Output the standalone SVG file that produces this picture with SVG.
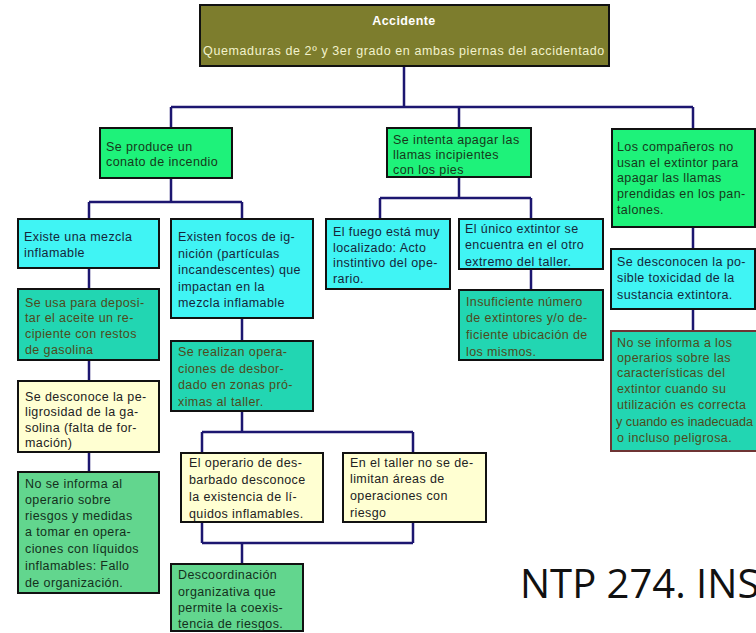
<svg xmlns="http://www.w3.org/2000/svg" width="756" height="633" viewBox="0 0 756 633">
<style>
  .box{stroke:#111;stroke-width:2}
  .olive{fill:#7d7d2d}
  .green{fill:#1ef27a}
  .cyan{fill:#40f4f4}
  .teal{fill:#22d6b2}
  .yellow{fill:#ffffd2}
  .lgreen{fill:#62d68e}
  text{font-family:"Liberation Sans",Arial,sans-serif;font-size:12.5px;letter-spacing:0.4px}
  .tg{fill:#16381a}
  .tc{fill:#16263a}
  .tt{fill:#4e4a1c}
  .ty{fill:#222222}
  .tl{fill:#14301c}
  .conn{fill:none;stroke:#1c1670;stroke-width:2.5}
</style>
<rect width="756" height="633" fill="#ffffff"/>
<g id="connectors" class="conn">
  <path d="M404,66V107M171,107H693M171,107V128M459,107V128M693,107V129"/>
  <path d="M171,178V202M89,202H242M89,202V219M242,202V219"/>
  <path d="M459,177V198M380,198H531M380,198V219M531,198V219"/>
  <path d="M89,268V289M89,360V381M89,452V472"/>
  <path d="M242,318V341M242,411V432M202,432H413M202,432V453M413,432V453"/>
  <path d="M202,522V543M413,522V543M202,543H413M242,543V564"/>
  <path d="M531,269V290"/>
  <path d="M693,227V249M693,309V331"/>
</g>
<g id="accidente">
  <rect class="box olive" x="200" y="5" width="409" height="61"/>
  <text x="404" y="25" text-anchor="middle" font-weight="bold" fill="#ffffff">Accidente</text>
  <text x="404" y="55" text-anchor="middle" fill="#f2f2cc" style="letter-spacing:0.6px">Quemaduras de 2º y 3er grado en ambas piernas del accidentado</text>
</g>
<g id="conato">
  <rect class="box green" x="100" y="128" width="132" height="50"/>
  <text class="tg" x="106" y="151">Se produce un</text>
  <text class="tg" x="106" y="166">conato de incendio</text>
</g>
<g id="intenta">
  <rect class="box green" x="387" y="128" width="144" height="49"/>
  <text class="tg" x="393" y="144">Se intenta apagar las</text>
  <text class="tg" x="393" y="159">llamas incipientes</text>
  <text class="tg" x="393" y="174">con los pies</text>
</g>
<g id="companeros">
  <rect class="box green" x="612" y="129" width="143" height="98"/>
  <text class="tg" x="617" y="151">Los compañeros no</text>
  <text class="tg" x="617" y="167">usan el extintor para</text>
  <text class="tg" x="617" y="182">apagar las llamas</text>
  <text class="tg" x="617" y="198">prendidas en los pan-</text>
  <text class="tg" x="617" y="214">talones.</text>
</g>
<g id="mezcla">
  <rect class="box cyan" x="18" y="219" width="141" height="49"/>
  <text class="tc" x="24" y="241">Existe una mezcla</text>
  <text class="tc" x="24" y="257">inflamable</text>
</g>
<g id="focos">
  <rect class="box cyan" x="171" y="219" width="142" height="99"/>
  <text class="tc" x="178" y="241">Existen focos de ig-</text>
  <text class="tc" x="178" y="258">nición (partículas</text>
  <text class="tc" x="178" y="274">incandescentes) que</text>
  <text class="tc" x="178" y="291">impactan en la</text>
  <text class="tc" x="178" y="307">mezcla inflamable</text>
</g>
<g id="fuego">
  <rect class="box cyan" x="326" y="219" width="124" height="70"/>
  <text class="tc" x="333" y="236">El fuego está muy</text>
  <text class="tc" x="333" y="252">localizado: Acto</text>
  <text class="tc" x="333" y="267">instintivo del ope-</text>
  <text class="tc" x="333" y="283">rario.</text>
</g>
<g id="unico">
  <rect class="box cyan" x="459" y="219" width="144" height="50"/>
  <text class="tc" x="465" y="233">El único extintor se</text>
  <text class="tc" x="465" y="249">encuentra en el otro</text>
  <text class="tc" x="465" y="266">extremo del taller.</text>
</g>
<g id="toxicidad">
  <rect class="box cyan" x="611" y="249" width="144" height="60"/>
  <text class="tc" x="617" y="266">Se desconocen la po-</text>
  <text class="tc" x="617" y="282">sible toxicidad de la</text>
  <text class="tc" x="617" y="299">sustancia extintora.</text>
</g>
<g id="recipiente">
  <rect class="box teal" x="18" y="289" width="141" height="71"/>
  <text class="tt" x="25" y="307">Se usa para deposi-</text>
  <text class="tt" x="25" y="322">tar el aceite un re-</text>
  <text class="tt" x="25" y="338">cipiente con restos</text>
  <text class="tt" x="25" y="354">de gasolina</text>
</g>
<g id="insuficiente">
  <rect class="box teal" x="459" y="290" width="144" height="70"/>
  <text class="tt" x="466" y="306">Insuficiente número</text>
  <text class="tt" x="466" y="322">de extintores y/o de-</text>
  <text class="tt" x="466" y="339">ficiente ubicación de</text>
  <text class="tt" x="466" y="356">los mismos.</text>
</g>
<g id="no-informa-extintor">
  <rect class="teal" x="611" y="331" width="146" height="120" stroke="#6e3434" stroke-width="2"/>
  <text class="tt" x="617" y="347">No se informa a los</text>
  <text class="tt" x="617" y="362">operarios sobre las</text>
  <text class="tt" x="617" y="377">características del</text>
  <text class="tt" x="617" y="393">extintor cuando su</text>
  <text class="tt" x="617" y="409">utilización es correcta</text>
  <text class="tt" x="616" y="426" textLength="137" lengthAdjust="spacingAndGlyphs" style="letter-spacing:0">y cuando es inadecuada</text>
  <text class="tt" x="617" y="442">o incluso peligrosa.</text>
</g>
<g id="desbordado">
  <rect class="box teal" x="171" y="341" width="142" height="70"/>
  <text class="tt" x="178" y="356">Se realizan opera-</text>
  <text class="tt" x="178" y="373">ciones de desbor-</text>
  <text class="tt" x="178" y="389">dado en zonas pró-</text>
  <text class="tt" x="178" y="406">ximas al taller.</text>
</g>
<g id="peligrosidad">
  <rect class="box yellow" x="18" y="381" width="141" height="71"/>
  <text class="ty" x="25" y="401">Se desconoce la pe-</text>
  <text class="ty" x="25" y="416">ligrosidad de la ga-</text>
  <text class="ty" x="25" y="432">solina (falta de for-</text>
  <text class="ty" x="25" y="447">mación)</text>
</g>
<g id="no-informa-operario">
  <rect class="box lgreen" x="18" y="472" width="141" height="121"/>
  <text class="tl" x="25" y="488">No se informa al</text>
  <text class="tl" x="25" y="504">operario sobre</text>
  <text class="tl" x="25" y="520">riesgos y medidas</text>
  <text class="tl" x="25" y="536">a tomar en opera-</text>
  <text class="tl" x="25" y="553">ciones con líquidos</text>
  <text class="tl" x="25" y="570">inflamables: Fallo</text>
  <text class="tl" x="25" y="587">de organización.</text>
</g>
<g id="operario">
  <rect class="box yellow" x="181" y="453" width="142" height="69"/>
  <text class="ty" x="189" y="467">El operario de des-</text>
  <text class="ty" x="189" y="484">barbado desconoce</text>
  <text class="ty" x="189" y="501">la existencia de lí-</text>
  <text class="ty" x="189" y="518">quidos inflamables.</text>
</g>
<g id="taller">
  <rect class="box yellow" x="343" y="453" width="143" height="69"/>
  <text class="ty" x="350" y="467">En el taller no se de-</text>
  <text class="ty" x="350" y="483">limitan áreas de</text>
  <text class="ty" x="350" y="500">operaciones con</text>
  <text class="ty" x="350" y="517">riesgo</text>
</g>
<g id="descoordinacion">
  <rect class="box lgreen" x="171" y="564" width="132" height="67"/>
  <text class="tl" x="178" y="579">Descoordinación</text>
  <text class="tl" x="178" y="596">organizativa que</text>
  <text class="tl" x="178" y="612">permite la coexis-</text>
  <text class="tl" x="178" y="628">tencia de riesgos.</text>
</g>
<text x="520" y="598" fill="#111111" style="font-family:'Open Sans','Noto Sans',sans-serif;font-size:40px;letter-spacing:0">NTP 274. INS</text>
</svg>
